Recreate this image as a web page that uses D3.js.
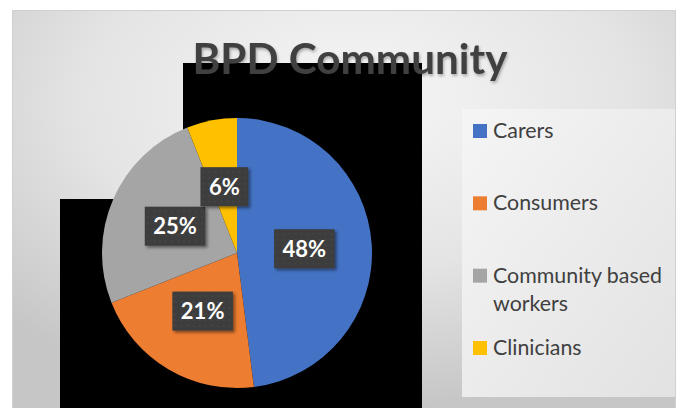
<!DOCTYPE html>
<html>
	<head>
		<meta charset="utf-8">
		<style type="text/css">
			body { margin: 0; background: white; font-family: Lato, "Open Sans", sans-serif; }
			svg { display: block; }
		</style>
		<title>BPD Community</title>
	</head>
	<body>
		<div id="chart"></div>
		<script src="https://cdn.jsdelivr.net/npm/d3@7"></script>
		<script>

// data
var categories = ["Carers", "Consumers", "Community based workers", "Clinicians"];
var legendLines = [["Carers"], ["Consumers"], ["Community based", "workers"], ["Clinicians"]];
var shares = [48, 21, 25, 6];
var colors = ["#4472C4", "#ED7D31", "#A5A5A5", "#FFC000"];
var title = "BPD Community";

var W = 676, H = 408;
var frame = {x: 12, y: 10, w: 663, h: 410};
var cx = 237, cy = 253, radius = 135;

var svg = d3.select("#chart").append("svg")
    .attr("width", W)
    .attr("height", H);

var defs = svg.append("defs");

var bg = defs.append("radialGradient")
    .attr("id", "bg")
    .attr("cx", "52%").attr("cy", "22%")
    .attr("r", "75%");
bg.append("stop").attr("offset", "0%").attr("stop-color", "#f6f6f6");
bg.append("stop").attr("offset", "55%").attr("stop-color", "#e4e4e4");
bg.append("stop").attr("offset", "100%").attr("stop-color", "#c6c6c6");

var lg = defs.append("linearGradient")
    .attr("id", "lg")
    .attr("x1", "0%").attr("y1", "0%").attr("x2", "100%").attr("y2", "100%");
lg.append("stop").attr("offset", "0%").attr("stop-color", "#f5f5f5");
lg.append("stop").attr("offset", "100%").attr("stop-color", "#e2e2e2");

var shadow = defs.append("filter").attr("id", "shadow")
    .attr("x", "-20%").attr("y", "-20%").attr("width", "150%").attr("height", "150%");
shadow.append("feDropShadow")
    .attr("dx", 2).attr("dy", 2).attr("stdDeviation", 1.5)
    .attr("flood-color", "#000").attr("flood-opacity", 0.45);

var tshadow = defs.append("filter").attr("id", "tshadow")
    .attr("x", "-10%").attr("y", "-20%").attr("width", "120%").attr("height", "150%");
tshadow.append("feDropShadow")
    .attr("dx", 1).attr("dy", 2).attr("stdDeviation", 1.5)
    .attr("flood-color", "#000").attr("flood-opacity", 0.3);

// dotted texture for the data label boxes
var pat = defs.append("pattern").attr("id", "dots")
    .attr("width", 6).attr("height", 6).attr("patternUnits", "userSpaceOnUse");
pat.append("rect").attr("width", 6).attr("height", 6).attr("fill", "#3c3c3c");
pat.append("circle").attr("cx", 3).attr("cy", 3).attr("r", 0.7).attr("fill", "#555");

// chart area
svg.append("rect")
    .attr("x", frame.x + 0.5).attr("y", frame.y + 0.5)
    .attr("width", frame.w).attr("height", frame.h)
    .attr("fill", "url(#bg)")
    .attr("stroke", "#d0d0d0");

// the two black blocks behind the pie
svg.append("rect").attr("x", 183).attr("y", 63).attr("width", 239).attr("height", H - 63).attr("fill", "#000");
svg.append("rect").attr("x", 60).attr("y", 199).attr("width", 123).attr("height", H - 199).attr("fill", "#000");

// title
var t = svg.append("text")
    .attr("x", 350).attr("y", 74)
    .attr("text-anchor", "middle")
    .attr("fill", "#404040")
    .attr("font-weight", 700)
    .attr("font-size", 40)
    .attr("filter", "url(#tshadow)")
    .text(title);
t.attr("font-size", 40 * 315 / t.node().getComputedTextLength());

// pie
var pie = d3.pie().sort(null).value(d => d);
var arc = d3.arc().innerRadius(0).outerRadius(radius);
var arcs = pie(shares);

var g = svg.append("g").attr("transform", `translate(${cx},${cy})`);
g.selectAll("path.slice")
    .data(arcs)
    .enter().append("path")
    .attr("class", "slice")
    .attr("d", arc)
    .attr("fill", (d, i) => colors[i]);

// data labels
var fmt = d3.format(".0%");
var total = d3.sum(shares);
var labels = g.selectAll("g.lbl")
    .data(arcs)
    .enter().append("g")
    .attr("class", "lbl")
    .attr("transform", d => `translate(${arc.centroid(d)})`);

labels.each(function(d) {
    var lab = d3.select(this);
    var box = lab.append("rect").attr("fill", "url(#dots)").attr("filter", "url(#shadow)");
    var txt = lab.append("text")
        .attr("text-anchor", "middle")
        .attr("dy", "0.36em")
        .attr("fill", "#fff")
        .attr("font-weight", 700)
        .attr("font-size", 22)
        .text(fmt(d.data / total));
    var w = txt.node().getComputedTextLength() + 17;
    box.attr("x", -w / 2).attr("y", -19.5).attr("width", w).attr("height", 39);
});

// legend
var legendBox = {x: 462, y: 109, w: 213, h: 288};
svg.append("rect")
    .attr("x", legendBox.x).attr("y", legendBox.y)
    .attr("width", legendBox.w).attr("height", legendBox.h)
    .attr("fill", "url(#lg)");

var legendY = d3.scalePoint().domain(categories).range([131, 348]);

var items = svg.selectAll("g.legend")
    .data(categories)
    .enter().append("g")
    .attr("class", "legend")
    .attr("transform", d => `translate(473,${legendY(d)})`);

items.append("rect")
    .attr("x", 0).attr("y", -7)
    .attr("width", 14).attr("height", 14)
    .attr("fill", (d, i) => colors[i]);

var ltext = items.append("text")
    .attr("x", 20)
    .attr("fill", "#404040")
    .attr("font-size", 20);
ltext.selectAll("tspan")
    .data((d, i) => legendLines[i])
    .enter().append("tspan")
    .attr("x", 20)
    .attr("y", (d, i) => 7 + i * 28)
    .text(d => d);

// fit legend font so "Community based" is as wide as in the picture
var probe = ltext.filter((d, i) => i == 2).select("tspan").node();
var fs = 20 * 169 / probe.getComputedTextLength();
ltext.attr("font-size", fs);

		</script>
	</body>
</html>
